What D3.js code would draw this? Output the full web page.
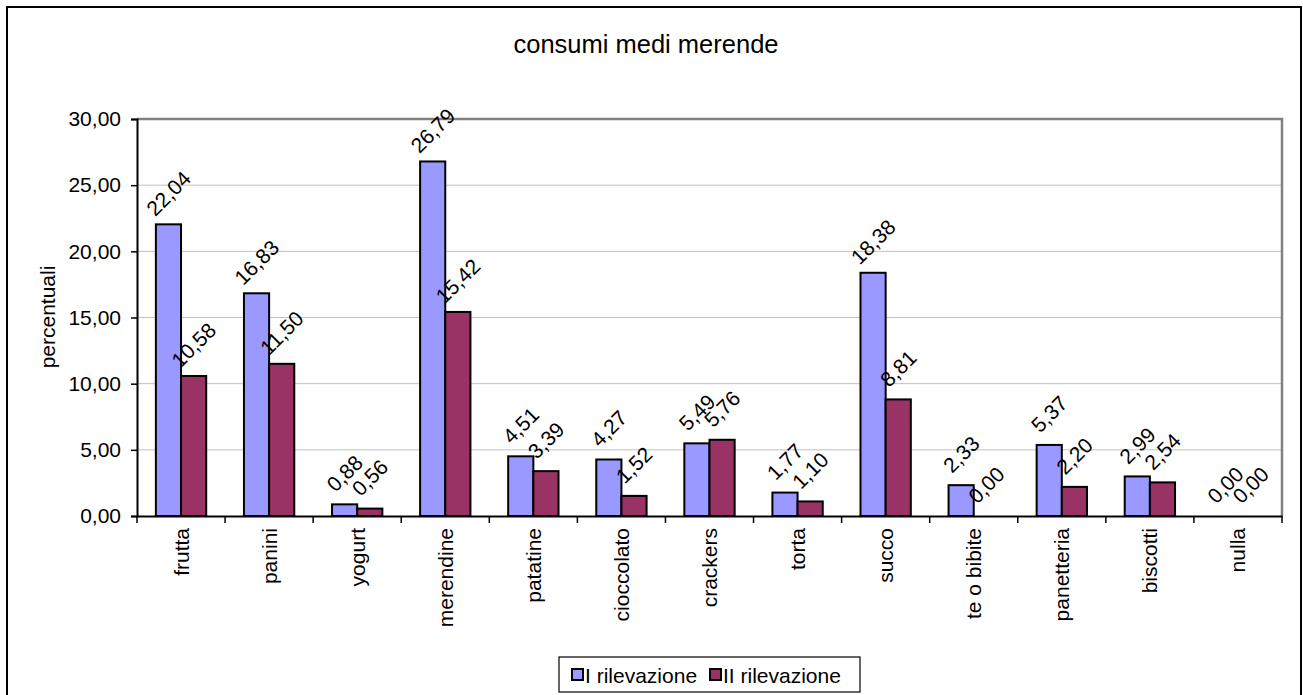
<!DOCTYPE html>
<html>
<head>
<meta charset="utf-8">
<script src="https://cdn.jsdelivr.net/npm/d3@7"></script>
<style>
  body { margin: 0; background: #fff; }
  text { font-family: "Liberation Sans", Arial, sans-serif; fill: #000; }
</style>
</head>
<body>
<script>
const categories = ["frutta", "panini", "yogurt", "merendine", "patatine", "cioccolato",
  "crackers", "torta", "succo", "te o bibite", "panetteria", "biscotti", "nulla"];
const seriesNames = ["I rilevazione", "II rilevazione"];
const rilevazione1 = [22.04, 16.83, 0.88, 26.79, 4.51, 4.27, 5.49, 1.77, 18.38, 2.33, 5.37, 2.99, 0.00];
const rilevazione2 = [10.58, 11.50, 0.56, 15.42, 3.39, 1.52, 5.76, 1.10, 8.81, 0.00, 2.20, 2.54, 0.00];
const yTicks = [0, 5, 10, 15, 20, 25, 30];
const colors = ["#9999ff", "#993366"];

const width = 1303, height = 695;
const plot = { left: 137, top: 119, right: 1282, bottom: 516 };

const svg = d3.select("body").append("svg")
    .attr("width", width)
    .attr("height", height);

// outer frame
svg.append("rect")
    .attr("x", 7).attr("y", 7)
    .attr("width", 1294).attr("height", 700)
    .attr("fill", "#fff")
    .attr("stroke", "#000")
    .attr("stroke-width", 2);

const fmt = v => d3.format(".2f")(v).replace(".", ",");

const x = d3.scaleBand()
    .domain(categories)
    .range([plot.left, plot.right])
    .paddingInner(0)
    .paddingOuter(0);

const bw = x.bandwidth() / 3.5; // gap width 150%

const y = d3.scaleLinear()
    .domain([0, 30])
    .range([plot.bottom, plot.top]);

// gridlines
svg.append("g")
    .selectAll("line")
    .data(yTicks.slice(1, -1))
    .enter().append("line")
    .attr("x1", plot.left).attr("x2", plot.right)
    .attr("y1", d => y(d)).attr("y2", d => y(d))
    .attr("stroke", "#c0c0c0")
    .attr("stroke-width", 1);

// plot frame top/right
svg.append("path")
    .attr("d", `M${plot.left},${plot.top}H${plot.right}V${plot.bottom}`)
    .attr("fill", "none")
    .attr("stroke", "#808080")
    .attr("stroke-width", 2.5);

const series = [rilevazione1, rilevazione2];

series.forEach((vals, s) => {
  svg.append("g")
      .selectAll("rect")
      .data(vals)
      .enter().append("rect")
      .attr("x", (d, i) => x(categories[i]) + 0.75 * bw + s * bw)
      .attr("y", d => y(d))
      .attr("width", bw)
      .attr("height", d => y(0) - y(d))
      .attr("fill", colors[s])
      .attr("stroke", "#000")
      .attr("stroke-width", d => d > 0 ? 2 : 0);
});

// data labels
series.forEach((vals, s) => {
  svg.append("g")
      .selectAll("text")
      .data(vals)
      .enter().append("text")
      .attr("transform", (d, i) => {
        const cx = x(categories[i]) + 0.75 * bw + s * bw + bw / 2;
        return `translate(${cx},${y(d) - 31}) rotate(-45)`;
      })
      .attr("text-anchor", "middle")
      .attr("dominant-baseline", "central")
      .attr("font-size", 21)
      .text(d => fmt(d));
});

// y axis
const yAxis = svg.append("g")
    .attr("transform", `translate(${plot.left},0)`)
    .call(d3.axisLeft(y).tickValues(yTicks).tickSize(6).tickPadding(10).tickFormat(fmt));
yAxis.select(".domain").attr("stroke", "#000").attr("stroke-width", 2);
yAxis.selectAll(".tick line").attr("stroke", "#000").attr("stroke-width", 1.5);
yAxis.selectAll(".tick text")
    .attr("font-size", 21)
    .attr("font-family", "Liberation Sans, Arial, sans-serif");

// x axis
const xAxis = svg.append("g")
    .attr("transform", `translate(0,${plot.bottom})`)
    .call(d3.axisBottom(x).tickSize(0).tickFormat(""));
xAxis.select(".domain").attr("stroke", "#000").attr("stroke-width", 2);

svg.append("g")
    .selectAll("line")
    .data(categories.map(c => x(c)).concat([plot.right]))
    .enter().append("line")
    .attr("x1", d => d).attr("x2", d => d)
    .attr("y1", plot.bottom).attr("y2", plot.bottom + 7)
    .attr("stroke", "#000")
    .attr("stroke-width", 1.5);

svg.append("g")
    .selectAll("text")
    .data(categories)
    .enter().append("text")
    .attr("transform", d => `translate(${x(d) + x.bandwidth() / 2},${plot.bottom + 12}) rotate(-90)`)
    .attr("text-anchor", "end")
    .attr("dominant-baseline", "central")
    .attr("font-size", 21)
    .text(d => d);

// titles
svg.append("text")
    .attr("x", 646).attr("y", 53)
    .attr("text-anchor", "middle")
    .attr("font-size", 25.5)
    .text("consumi medi merende");

svg.append("text")
    .attr("transform", "translate(47,317) rotate(-90)")
    .attr("text-anchor", "middle")
    .attr("dominant-baseline", "central")
    .attr("font-size", 21)
    .text("percentuali");

// legend
const legend = svg.append("g");
legend.append("rect")
    .attr("x", 559).attr("y", 657)
    .attr("width", 301).attr("height", 35)
    .attr("fill", "#fff")
    .attr("stroke", "#000")
    .attr("stroke-width", 1.2);

const legendX = [572, 710];
seriesNames.forEach((name, s) => {
  legend.append("rect")
      .attr("x", legendX[s]).attr("y", 669)
      .attr("width", 11).attr("height", 11)
      .attr("fill", colors[s])
      .attr("stroke", "#000")
      .attr("stroke-width", 2);
  legend.append("text")
      .attr("x", legendX[s] + 13).attr("y", 675)
      .attr("dominant-baseline", "central")
      .attr("font-size", 21)
      .text(name);
});
</script>
</body>
</html>
